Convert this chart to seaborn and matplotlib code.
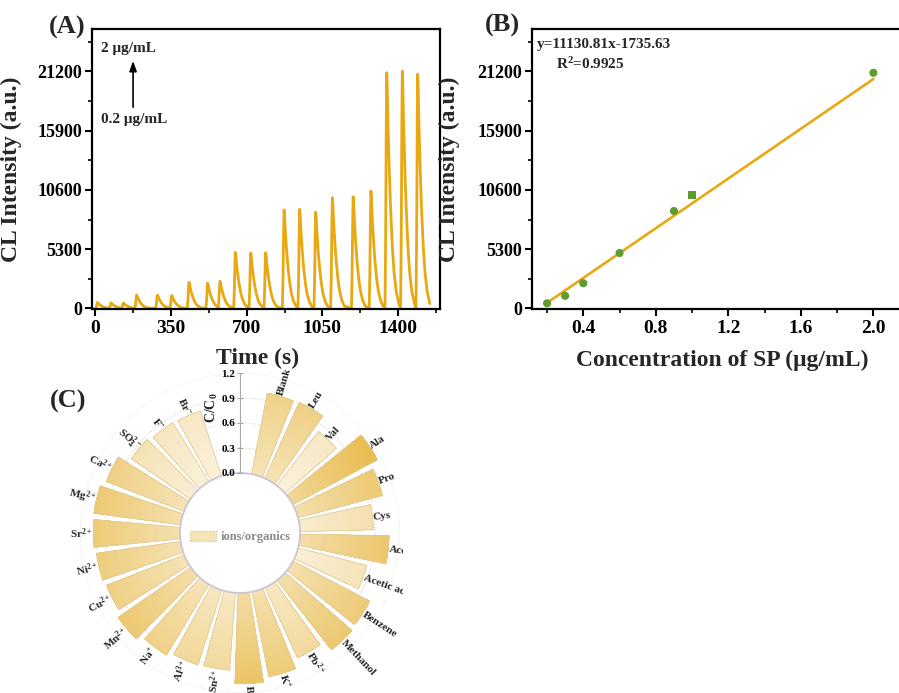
import numpy as np
import pandas as pd
import matplotlib
matplotlib.use("Agg")
import matplotlib.pyplot as plt
import seaborn as sns
from matplotlib.transforms import Bbox, TransformedBbox
from matplotlib.patches import Patch
from matplotlib.colors import to_rgb
from matplotlib.ticker import FixedLocator

# ---------------- data ----------------
# Panel A: CL trace, injection peaks (time of peak, s) and heights (a.u.)
peak_times = [11, 74, 131, 192, 288, 354, 434, 520, 577, 648, 719, 788,
              873, 945, 1019, 1096, 1192, 1274, 1347, 1419, 1490]
peak_heights = [520, 480, 470, 1190, 1190, 1150, 2330, 2250, 2420,
                5010, 4950, 4980, 8800, 8860, 8620, 9900, 9990, 10500,
                21090, 21240, 20970]
# peak profile (s relative to peak, fraction of peak height)
shape_offsets = [-8, -5, -2, 0, 2, 6, 12, 18, 26, 34, 44, 56]
shape_fracs = [0.0, 0.3, 0.8, 1.0, 0.95, 0.78, 0.58, 0.42, 0.26, 0.15, 0.07, 0.02]
a_xticks = [0, 350, 700, 1050, 1400]
y_ticks = [0, 5300, 10600, 15900, 21200]

# Panel B: calibration
conc = [0.2, 0.3, 0.4, 0.6, 0.9, 1.0, 2.0]
cl_mean = [450, 1120, 2250, 4950, 8710, 10120, 21080]
point_marker = ["o", "o", "o", "o", "o", "s", "o"]
fit_slope = 11130.81
fit_intercept = -1735.63
fit_range = [0.2, 2.0]
b_xticks = [0.4, 0.8, 1.2, 1.6, 2.0]

# Panel C: selectivity (C/C0)
categories = ["Blank", "Leu", "Val", "Ala", "Pro", "Cys", "Acetone", "Acetic acid",
              "Benzene", "Methanol", "Pb$^{2+}$", "K$^{+}$", "Ba$^{2+}$", "Sn$^{2+}$",
              "Al$^{3+}$", "Na$^{+}$", "Mn$^{2+}$", "Cu$^{2+}$", "Ni$^{2+}$", "Sr$^{2+}$",
              "Mg$^{2+}$", "Ca$^{2+}$", "SO$_4^{2-}$", "F$^{-}$", "Br$^{-}$"]
ratios = [0.99, 1.00, 0.82, 1.15, 1.05, 0.88, 1.07, 0.85, 1.04, 1.06, 0.93, 1.04,
          1.09, 0.93, 0.94, 0.99, 1.06, 1.00, 1.02, 1.04, 1.05, 1.00, 0.86, 0.83, 0.82]
r_ticks = [0.0, 0.3, 0.6, 0.9, 1.2]

# ---------------- style ----------------
sns.set_theme(style="ticks")
plt.rcParams["font.family"] = ["Liberation Serif", "DejaVu Serif"]
plt.rcParams["font.weight"] = "bold"
plt.rcParams["axes.labelweight"] = "bold"
plt.rcParams["mathtext.fontset"] = "custom"
plt.rcParams["mathtext.rm"] = "Liberation Serif:bold"
plt.rcParams["mathtext.it"] = "Liberation Serif:bold"
plt.rcParams["mathtext.bf"] = "Liberation Serif:bold"
plt.rcParams["mathtext.default"] = "rm"

GOLD = "#E8A812"
GREEN = "#5E9C2E"
W, H = 899, 693
fig = plt.figure(figsize=(W / 100, H / 100), dpi=100)


def frac(x0, y0, x1, y1):
    return [x0 / W, 1 - y1 / H, (x1 - x0) / W, (y1 - y0) / H]


def style_box(ax, xt_size=14, yt_size=13):
    for s in ax.spines.values():
        s.set_linewidth(1.6)
        s.set_color("black")
    ax.tick_params(which="major", direction="out", length=5, width=1.5,
                   top=False, right=False, colors="black")
    ax.tick_params(which="minor", direction="out", length=3, width=1.2,
                   top=False, right=False, colors="black")
    ax.tick_params(axis="x", labelsize=xt_size, pad=3)
    ax.tick_params(axis="y", labelsize=yt_size, pad=2)
    for lab in ax.get_xticklabels() + ax.get_yticklabels():
        lab.set_fontweight("bold")


# ---------------- Panel A ----------------
axA = fig.add_axes(frac(92, 28.7, 440, 309))
t_all, y_all = [0.0], [0.0]
for i, (tp, h) in enumerate(zip(peak_times, peak_heights)):
    nxt = peak_times[i + 1] + shape_offsets[0] if i + 1 < len(peak_times) else 1e9
    for o, f in zip(shape_offsets, shape_fracs):
        t = tp + o
        if t > t_all[-1] and t < nxt:
            t_all.append(t)
            y_all.append(h * f)
dfA = pd.DataFrame({"t": t_all, "cl": y_all})
sns.lineplot(data=dfA, x="t", y="cl", ax=axA, color=GOLD, lw=2.0,
             estimator=None, sort=False)
axA.set_xlim(-14, 1593)
axA.set_ylim(-60, 25030)
axA.set_xticks(a_xticks)
axA.xaxis.set_minor_locator(FixedLocator([175, 525, 875, 1225, 1575]))
axA.set_yticks(y_ticks)
axA.yaxis.set_minor_locator(FixedLocator([2650, 7950, 13250, 18550, 23850]))
axA.set_xlabel("Time (s)", fontsize=17, fontweight="bold")
axA.set_ylabel("CL Intensity (a.u.)", fontsize=17, fontweight="bold")
axA.xaxis.set_label_coords(0.477, -0.14)
axA.yaxis.set_label_coords(-0.2, 0.5)
style_box(axA)
axA.annotate("", xy=(0.118, 0.895), xytext=(0.118, 0.71), xycoords="axes fraction",
             arrowprops=dict(arrowstyle="-|>,head_length=0.5,head_width=0.18",
                             color="black", lw=1.2))
axA.text(0.025, 0.93, "2 μg/mL", transform=axA.transAxes, fontsize=11,
         fontweight="bold", ha="left", va="center")
axA.text(0.025, 0.675, "0.2 μg/mL", transform=axA.transAxes, fontsize=11,
         fontweight="bold", ha="left", va="center")

# ---------------- Panel B ----------------
axB = fig.add_axes(frac(531.7, 28.7, 903, 309))
dfB = pd.DataFrame({"c": conc, "cl": cl_mean, "m": point_marker})
x_fit = np.array(fit_range)
dfFit = pd.DataFrame({"c": x_fit, "cl": fit_slope * x_fit + fit_intercept})
sns.lineplot(data=dfFit, x="c", y="cl", ax=axB, color=GOLD, lw=1.9)
sns.scatterplot(data=dfB, x="c", y="cl", style="m", markers={"o": "o", "s": "s"},
                ax=axB, color=GREEN, s=34, edgecolor="none", legend=False, zorder=3)
axB.set_xlim(0.1154, 0.1154 + 371.3 / 181.3)
axB.set_ylim(-60, 25030)
axB.set_xticks(b_xticks)
axB.set_xticklabels([f"{v:.1f}" for v in b_xticks])
axB.xaxis.set_minor_locator(FixedLocator([0.2, 0.6, 1.0, 1.4, 1.8]))
axB.set_yticks(y_ticks)
axB.yaxis.set_minor_locator(FixedLocator([2650, 7950, 13250, 18550, 23850]))
axB.set_xlabel("Concentration of SP (μg/mL)", fontsize=17, fontweight="bold")
axB.set_ylabel("CL Intensity (a.u.)", fontsize=17, fontweight="bold")
axB.xaxis.set_label_coords(0.514, -0.145)
axB.yaxis.set_label_coords(-0.194, 0.5)
style_box(axB)
axB.text(0.015, 0.945, f"y={fit_slope}x{fit_intercept}", transform=axB.transAxes,
         fontsize=11, fontweight="bold", ha="left", va="center")
axB.text(0.065, 0.875, "R$^{2}$=0.9925", transform=axB.transAxes,
         fontsize=11, fontweight="bold", ha="left", va="center")

# ---------------- Panel C ----------------
axC = fig.add_axes(frac(80, 373, 400, 693), projection="polar")
axC.set_theta_zero_location("N")
axC.set_theta_direction(-1)
axC.set_ylim(0, 1.2)
axC.set_rorigin(-0.72)
n_slots = len(categories) + 2
step = 2 * np.pi / n_slots
thetas = np.deg2rad(16.5) + step * np.arange(len(categories))
bar_w = step * 0.82

light = np.array(to_rgb("#F7E8C4"))
dark = np.array(to_rgb("#E8BC50"))
white = np.ones(3)
vals = np.array(ratios)
tv = np.clip((vals - 0.82) / (1.15 - 0.82), 0, 1)
top_cols = light[None, :] * (1 - tv[:, None]) + dark[None, :] * tv[:, None]
inner_cols = top_cols * 0.6 + white * 0.4
K = 24
for j in range(K):
    s = (j + 0.5) / K
    cols = inner_cols * (1 - s) + top_cols * s
    axC.bar(thetas, vals * (1 - j / K), width=bar_w, bottom=vals * j / K,
            color=[tuple(c) for c in cols], linewidth=0, zorder=2)
axC.bar(thetas, vals, width=bar_w, bottom=0, fill=False, edgecolor="#E0C891",
        linewidth=0.5, zorder=3)

axC.set_xticks([])
axC.set_rgrids([0.3, 0.6, 0.9, 1.2])
axC.set_yticklabels([])
axC.grid(True, color="#D4D4D4", linestyle=":", linewidth=0.8)
axC.set_axisbelow(True)
axC.spines["polar"].set_visible(False)
axC.spines["inner"].set_color("#C8C5E4")
axC.spines["inner"].set_linewidth(1.3)

clip_tb = TransformedBbox(Bbox.from_extents(0, 0, 403 / W, 1.0), fig.transFigure)
for th, v, lab in zip(thetas, ratios, categories):
    deg = np.rad2deg(th) % 360
    if deg < 180:
        rot, ha = 90 - deg, "left"
    else:
        rot, ha = 270 - deg, "right"
    txt = axC.text(th, v + 0.008, lab, rotation=rot, rotation_mode="anchor",
                   ha=ha, va="center", fontsize=8, fontweight="bold", zorder=4)
    txt.set_clip_path(None)
    txt.set_clip_box(clip_tb)
    txt.set_clip_on(True)

axC.legend(handles=[Patch(facecolor="#F6E3B6", edgecolor="#CDB98A", linestyle=":",
                          linewidth=0.8, label="ions/organics")],
           loc="center", bbox_to_anchor=(0.5, 0.4875), frameon=False,
           prop=dict(family="Liberation Serif", weight="bold", size=9),
           labelcolor="#8A8A8A", handlelength=2.1, handleheight=0.9,
           handletextpad=0.35)

# radial value axis drawn as a thin cartesian axis at theta = 0
axR = fig.add_axes(frac(240, 373, 240.1, 473))
axR.set_ylim(0, 1.2)
axR.set_yticks(r_ticks)
axR.set_yticklabels([f"{v:.1f}" for v in r_ticks])
axR.set_xticks([])
for s in ["top", "right", "bottom"]:
    axR.spines[s].set_visible(False)
axR.spines["left"].set_color("#A8A8A8")
axR.spines["left"].set_linewidth(0.8)
axR.patch.set_visible(False)
axR.tick_params(axis="y", direction="inout", length=5, width=0.8, color="#A8A8A8",
                labelsize=8, pad=1, labelcolor="black")
for lab in axR.get_yticklabels():
    lab.set_fontweight("bold")
fig.text(212 / W, 1 - 408 / H, "C/C$_0$", rotation=90, fontsize=10,
         fontweight="bold", ha="center", va="center")

# panel letters
fig.text(67 / W, 1 - 27 / H, "(A)", fontsize=19, fontweight="bold", ha="center", va="center")
fig.text(502 / W, 1 - 25 / H, "(B)", fontsize=19, fontweight="bold", ha="center", va="center")
fig.text(68 / W, 1 - 401 / H, "(C)", fontsize=19, fontweight="bold", ha="center", va="center")

fig.savefig("out.png", dpi=100)
